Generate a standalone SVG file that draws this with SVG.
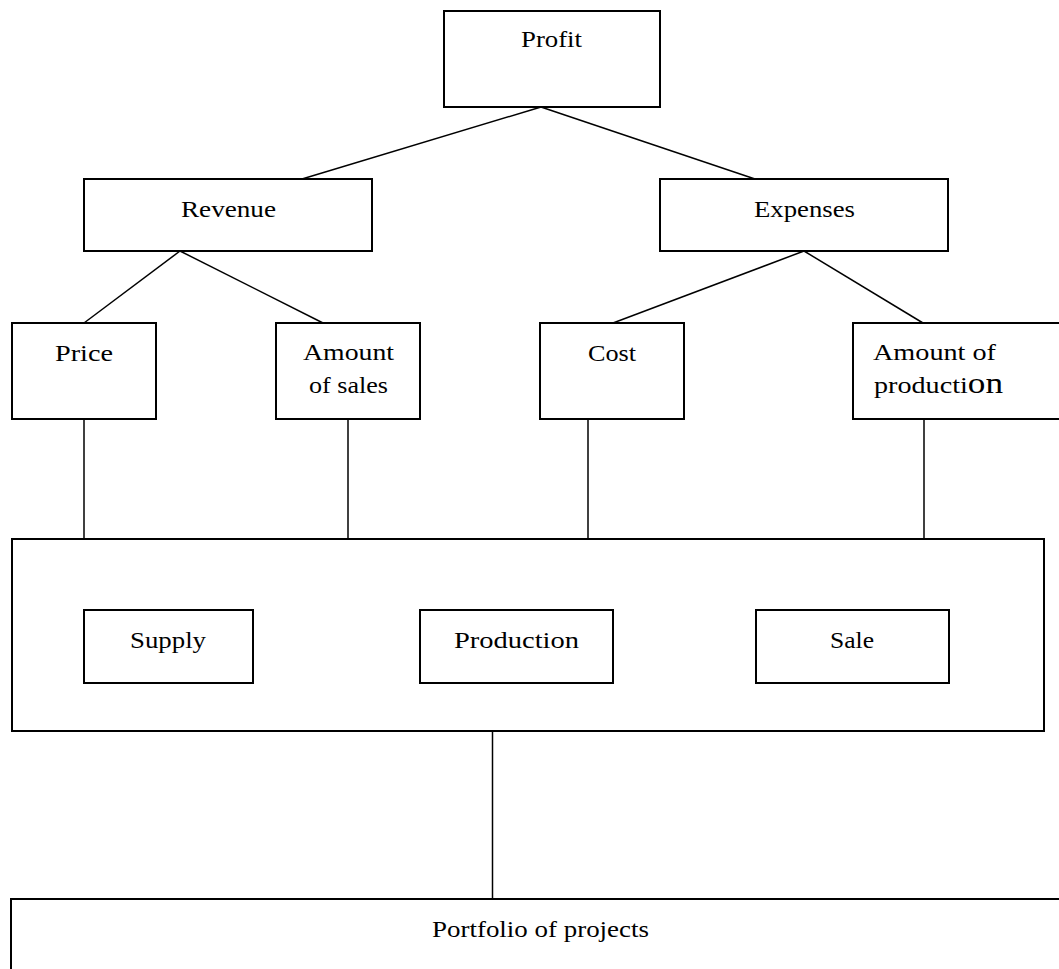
<svg xmlns="http://www.w3.org/2000/svg" width="1059" height="969" viewBox="0 0 1059 969">
<style>
.box{fill:#fff;stroke:#000;stroke-width:2}
.ln{stroke:#000;stroke-width:1.5;fill:none}
text{font-family:"Liberation Serif","Times New Roman",serif;font-size:24px;fill:#000}
</style>
<rect width="1059" height="969" fill="#fff"/>
<g id="connectors">
<line class="ln" x1="541" y1="107" x2="302" y2="179"/>
<line class="ln" x1="541" y1="107" x2="755" y2="179"/>
<line class="ln" x1="180" y1="251" x2="84" y2="323"/>
<line class="ln" x1="180" y1="251" x2="323" y2="323"/>
<line class="ln" x1="804" y1="251" x2="613" y2="323"/>
<line class="ln" x1="804" y1="251" x2="923" y2="323"/>
<line class="ln" x1="84" y1="419" x2="84" y2="539"/>
<line class="ln" x1="348" y1="419" x2="348" y2="539"/>
<line class="ln" x1="588" y1="419" x2="588" y2="539"/>
<line class="ln" x1="924" y1="419" x2="924" y2="539"/>
<line class="ln" x1="492.5" y1="731" x2="492.5" y2="899"/>
</g>
<g id="profit"><rect class="box" x="444" y="11" width="216" height="96"/><text x="521" y="47" textLength="61" lengthAdjust="spacingAndGlyphs">Profit</text></g>
<g id="revenue"><rect class="box" x="84" y="179" width="288" height="72"/><text x="181" y="217" textLength="95" lengthAdjust="spacingAndGlyphs">Revenue</text></g>
<g id="expenses"><rect class="box" x="660" y="179" width="288" height="72"/><text x="754" y="217" textLength="101" lengthAdjust="spacingAndGlyphs">Expenses</text></g>
<g id="price"><rect class="box" x="12" y="323" width="144" height="96"/><text x="55" y="361" textLength="58" lengthAdjust="spacingAndGlyphs">Price</text></g>
<g id="amount-of-sales"><rect class="box" x="276" y="323" width="144" height="96"/><text x="303" y="360" textLength="91" lengthAdjust="spacingAndGlyphs">Amount</text><text x="309" y="393" textLength="79" lengthAdjust="spacingAndGlyphs">of sales</text></g>
<g id="cost"><rect class="box" x="540" y="323" width="144" height="96"/><text x="588" y="361" textLength="48" lengthAdjust="spacingAndGlyphs">Cost</text></g>
<g id="amount-of-production"><rect class="box" x="853" y="323" width="230" height="96"/><text x="873" y="360" textLength="123" lengthAdjust="spacingAndGlyphs">Amount of</text><text x="874" y="393" textLength="129" lengthAdjust="spacingAndGlyphs">producti<tspan style="font-size:30px">on</tspan></text></g>
<g id="activities"><rect class="box" x="12" y="539" width="1032" height="192"/></g>
<g id="supply"><rect class="box" x="84" y="610" width="169" height="73"/><text x="130" y="648" textLength="76" lengthAdjust="spacingAndGlyphs">Supply</text></g>
<g id="production"><rect class="box" x="420" y="610" width="193" height="73"/><text x="454" y="648" textLength="125" lengthAdjust="spacingAndGlyphs">Production</text></g>
<g id="sale"><rect class="box" x="756" y="610" width="193" height="73"/><text x="830" y="648" textLength="44" lengthAdjust="spacingAndGlyphs">Sale</text></g>
<g id="portfolio"><rect class="box" x="11" y="899" width="1070" height="90"/><text x="432" y="937" textLength="217" lengthAdjust="spacingAndGlyphs">Portfolio of projects</text></g>
</svg>
